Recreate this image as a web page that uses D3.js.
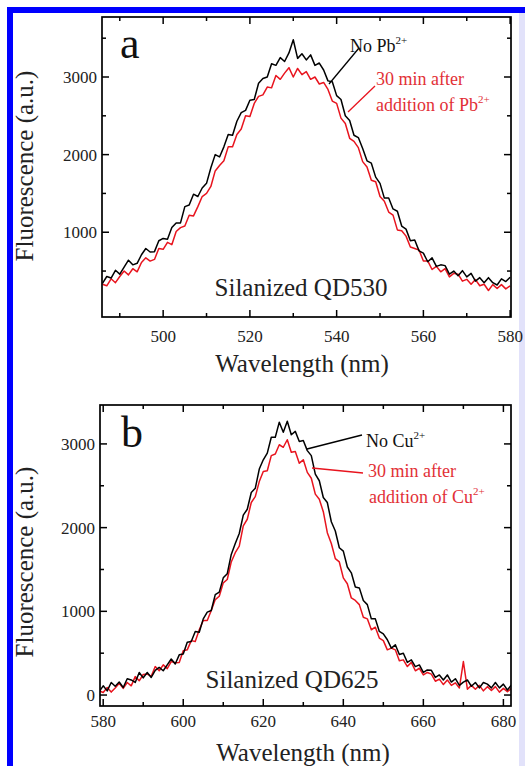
<!DOCTYPE html>
<html><head><meta charset="utf-8">
<script src="https://cdn.jsdelivr.net/npm/d3@7/dist/d3.min.js"></script>
<style>html,body{margin:0;padding:0;background:#fff}svg{display:block}</style>
</head><body>
<script>
// ---------- DATA ----------
const wlA = [486,487,488,489,490,491,492,493,494,495,496,497,498,499,500,501,502,503,504,505,506,507,508,509,510,511,512,513,514,515,516,517,518,519,520,521,522,523,524,525,526,527,528,529,530,531,532,533,534,535,536,537,538,539,540,541,542,543,544,545,546,547,548,549,550,551,552,553,554,555,556,557,558,559,560,561,562,563,564,565,566,567,568,569,570,571,572,573,574,575,576,577,578,579,580];
const noPbA = [340,430,410,510,460,550,640,580,600,710,
  790,745,750,890,920,910,1060,1120,1120,1330,
  1350,1490,1460,1570,1630,1830,2000,1970,2100,2260,
  2250,2430,2540,2570,2700,2710,2920,2980,3000,3170,
  3150,3250,3200,3310,3480,3240,3300,3220,3285,3150,
  3180,3090,2950,2940,2760,2710,2500,2440,2250,2220,
  2080,1920,1890,1710,1630,1440,1440,1300,1270,1080,
  1040,890,900,760,730,620,670,560,580,570,
  460,500,440,505,424,470,370,415,350,415,
  350,320,400,365,420];
const withPbA = [330,310,400,350,430,500,450,530,490,610,
  670,628,650,790,780,870,840,1010,1060,1080,
  1220,1210,1330,1460,1500,1590,1790,1860,1920,2100,
  2100,2260,2330,2500,2490,2660,2750,2770,2870,2860,
  3020,2970,3050,3120,3000,3110,3030,3070,2970,3000,
  2910,2930,2840,2690,2660,2470,2400,2210,2170,2090,
  1910,1840,1670,1650,1460,1400,1260,1220,1030,1020,
  950,810,790,770,630,630,520,560,490,530,
  425,470,460,370,393,330,390,310,330,250,
  325,275,325,270,310];

const wlB = [579,580,581,582,583,584,585,586,587,588,589,590,591,592,593,594,595,596,597,598,599,600,601,602,603,604,605,606,607,608,609,610,611,612,613,614,615,616,617,618,619,620,621,622,623,624,625,626,627,628,629,630,631,632,633,634,635,636,637,638,639,640,641,642,643,644,645,646,647,648,649,650,651,652,653,654,655,656,657,658,659,660,661,662,663,664,665,666,667,668,669,670,671,672,673,674,675,676,677,678,679,680,681,682];
const noCuB = [40,110,50,150,105,155,90,195,180,150,
  270,205,270,210,295,330,290,360,430,370,
  480,490,630,640,760,750,910,990,1010,1200,
  1230,1400,1450,1680,1810,1930,2150,2220,2420,2470,
  2700,2810,2890,3080,3080,3260,3140,3270,3110,3150,
  3030,3040,2920,2860,2640,2560,2360,2300,2070,1960,
  1760,1720,1530,1460,1290,1280,1130,1080,910,910,
  760,730,660,560,600,485,500,390,420,340,
  360,270,300,295,210,240,180,240,155,195,
  115,155,180,105,150,85,150,130,85,150,
  85,130,60,120];
const withCuB = [50,30,90,35,85,140,80,150,110,220,
  170,245,250,225,340,290,360,315,400,385,
  390,530,540,650,640,780,890,890,1010,1140,
  1180,1340,1380,1590,1700,1780,2020,2100,2300,2370,
  2550,2670,2680,2860,2880,2990,2960,3050,2900,2910,
  2770,2810,2660,2590,2400,2340,2190,1940,1810,1630,
  1590,1400,1330,1160,1130,1080,930,910,780,810,
  680,650,540,560,540,410,420,340,390,290,
  320,240,270,250,165,190,125,180,115,145,
  85,400,70,115,70,115,50,100,55,100,
  35,80,40,80];

const xMajorA = [500,520,540,560,580];
const xMinorA = [490,510,530,550,570];
const yMajorA = [1000,2000,3000];
const yMinorA = [500,1500,2500,3500];
const xMajorB = [580,600,620,640,660,680];
const xMinorB = [590,610,630,650,670];
const yMajorB = [0,1000,2000,3000];
const yMinorB = [500,1500,2500];

// ---------- DRAW ----------
const W = 525, H = 766;
const FONT = '"Liberation Serif"';
const BLACK = "#000000", RED = "#e8141e", REDTXT = "#e23036";

const svg = d3.select("body").append("svg").attr("width", W).attr("height", H);
svg.append("rect").attr("width", W).attr("height", H).attr("fill", "#fff");

// blue frame
svg.append("rect").attr("x", 7).attr("y", 7).attr("width", 6).attr("height", H - 7).attr("fill", "#0000ff");
svg.append("rect").attr("x", 7).attr("y", 7).attr("width", W - 7).attr("height", 6).attr("fill", "#0000ff");
svg.append("rect").attr("x", 519).attr("y", 13).attr("width", 6).attr("height", H - 13).attr("fill", "#e2e2fa");

function txt(parent, x, y, size, fill, str) {
  return parent.append("text").style("font-family", FONT)
    .attr("x", x).attr("y", y).attr("font-size", size).attr("fill", fill).text(str);
}

function panel(cfg) {
  const x = d3.scaleLinear().domain(cfg.xDomain).range([cfg.left, cfg.right]);
  const y = d3.scaleLinear().domain(cfg.yDomain).range([cfg.bottom, cfg.top]);
  const g = svg.append("g");
  const clipId = "clip" + cfg.id;
  g.append("clipPath").attr("id", clipId).append("rect")
    .attr("x", cfg.left).attr("y", cfg.top)
    .attr("width", cfg.right - cfg.left).attr("height", cfg.bottom - cfg.top);

  const line = d3.line().x(d => x(d[0])).y(d => y(d[1]));
  const cg = g.append("g").attr("clip-path", `url(#${clipId})`);
  cg.append("path").datum(cfg.wl.map((w, i) => [w, cfg.red[i]]))
    .attr("d", line).attr("fill", "none").attr("stroke", RED).attr("stroke-width", 1.5).attr("stroke-linejoin", "round");
  cg.append("path").datum(cfg.wl.map((w, i) => [w, cfg.black[i]]))
    .attr("d", line).attr("fill", "none").attr("stroke", BLACK).attr("stroke-width", 1.5).attr("stroke-linejoin", "round");

  g.append("rect").attr("x", cfg.left).attr("y", cfg.top)
    .attr("width", cfg.right - cfg.left).attr("height", cfg.bottom - cfg.top)
    .attr("fill", "none").attr("stroke", "#000").attr("stroke-width", 1.7);

  const tk = g.append("g").attr("stroke", "#000").attr("stroke-width", 1.5);
  const addX = (vals, len) => vals.forEach(v => {
    const px = x(v);
    tk.append("line").attr("x1", px).attr("x2", px).attr("y1", cfg.bottom).attr("y2", cfg.bottom - len);
    tk.append("line").attr("x1", px).attr("x2", px).attr("y1", cfg.top).attr("y2", cfg.top + len);
  });
  const addY = (vals, len) => vals.forEach(v => {
    const py = y(v);
    tk.append("line").attr("y1", py).attr("y2", py).attr("x1", cfg.left).attr("x2", cfg.left + len);
    tk.append("line").attr("y1", py).attr("y2", py).attr("x1", cfg.right).attr("x2", cfg.right - len);
  });
  addX(cfg.xMajor, 7); addX(cfg.xMinor, 4);
  addY(cfg.yMajor, 7); addY(cfg.yMinor, 4);

  cfg.xMajor.forEach(d => txt(g, x(d), cfg.xLabelY, 17, "#222", d).attr("text-anchor", "middle"));
  cfg.yMajor.forEach(d => txt(g, cfg.left - 5, y(d), 17, "#222", d).attr("dy", "0.35em").attr("text-anchor", "end"));

  txt(g, cfg.xTitleX, cfg.xTitleY, 25, "#222", "Wavelength (nm)").attr("text-anchor", "middle");
  txt(g, 0, 0, 25, "#222", "Fluorescence (a.u.)").attr("text-anchor", "middle")
    .attr("transform", `translate(33,${cfg.yTitleY}) rotate(-90)`);

  txt(g, cfg.letterX, cfg.letterY, 44, "#111", cfg.letter);
  txt(g, cfg.nameX, cfg.nameY, 25, "#222", cfg.name).attr("text-anchor", "middle");

  const L = cfg.legend;
  g.append("line").attr("x1", L.bl[0]).attr("y1", L.bl[1]).attr("x2", L.bl[2]).attr("y2", L.bl[3])
    .attr("stroke", BLACK).attr("stroke-width", 1.3);
  g.append("line").attr("x1", L.rl[0]).attr("y1", L.rl[1]).attr("x2", L.rl[2]).attr("y2", L.rl[3])
    .attr("stroke", RED).attr("stroke-width", 1.3);
  const t1 = txt(g, L.t1[0], L.t1[1], 18, "#111", null);
  t1.append("tspan").text("No " + cfg.ion);
  t1.append("tspan").attr("font-size", 11).attr("dy", -8).text("2+");
  txt(g, L.t2[0], L.t2[1], 18, REDTXT, "30 min after");
  const t3 = txt(g, L.t3[0], L.t3[1], 18, REDTXT, null);
  t3.append("tspan").text("addition of " + cfg.ion);
  t3.append("tspan").attr("font-size", 11).attr("dy", -8).text("2+");
}

panel({
  id: "A", left: 102, right: 511, top: 17, bottom: 317,
  xDomain: [485.9, 580.2], yDomain: [-92, 3773],
  wl: wlA, black: noPbA, red: withPbA,
  xMajor: xMajorA, xMinor: xMinorA, yMajor: yMajorA, yMinor: yMinorA,
  xLabelY: 342, xTitleX: 302, xTitleY: 372, yTitleY: 166,
  letter: "a", letterX: 120, letterY: 58,
  name: "Silanized QD530", nameX: 301, nameY: 296,
  ion: "Pb",
  legend: { bl: [359, 48, 329, 84], rl: [375, 86, 348, 112], t1: [350, 52], t2: [376, 85], t3: [376, 111] }
});

panel({
  id: "B", left: 100, right: 511, top: 405, bottom: 706,
  xDomain: [579.2, 681.9], yDomain: [-131, 3465],
  wl: wlB, black: noCuB, red: withCuB,
  xMajor: xMajorB, xMinor: xMinorB, yMajor: yMajorB, yMinor: yMinorB,
  xLabelY: 727, xTitleX: 303, xTitleY: 761, yTitleY: 562,
  letter: "b", letterX: 121, letterY: 447,
  name: "Silanized QD625", nameX: 292, nameY: 688,
  ion: "Cu",
  legend: { bl: [362, 435, 307, 449], rl: [363, 473, 312, 468], t1: [366, 447], t2: [368, 477], t3: [369, 503] }
});
</script>
</body></html>
